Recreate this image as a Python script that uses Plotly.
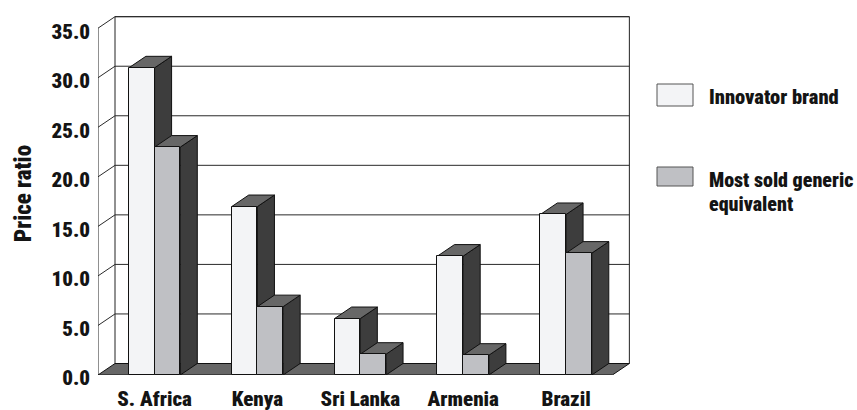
import plotly.graph_objects as go

# Price ratio of innovator brand vs. most sold generic, by country
countries = ["S. Africa", "Kenya", "Sri Lanka", "Armenia", "Brazil"]
innovator = [31.0, 17.0, 5.7, 12.0, 16.2]
generic = [23.0, 6.9, 2.1, 2.0, 12.3]
y_ticks = [0, 5, 10, 15, 20, 25, 30, 35]

FONT = "Roboto Condensed, Open Sans Condensed, DejaVu Sans Condensed, sans-serif"
WEIGHT = 900
TXT = "#141414"
C_INNOV = "#f3f4f6"
C_GEN = "#bfc0c4"
C_SIDE = "#3d3d3d"
C_TOP = "#676767"
C_FLOOR = "#666666"
EDGE = "#111111"

W, H = 857, 410
ML, MR, MT, MB = 98, 222, 15, 35
X0, X1 = -0.5, 4.72
YMAX = 36.33
PW = W - ML - MR
PH = H - MT - MB

# depth of the 3D box, in axis units
DX = 17 / (PW / (X1 - X0))
DY = 11.5 / (PH / YMAX)
BW = 0.25  # width of one bar
XL, XR = -0.5, 4.5  # front edges of the floor

fig = go.Figure()
shapes = []


def poly(pts, fill, width=1.0, color=EDGE):
    path = "M " + " L ".join(f"{x},{y}" for x, y in pts) + " Z"
    shapes.append(dict(type="path", path=path, xref="x", yref="y",
                       fillcolor=fill, line=dict(color=color, width=width),
                       layer="below"))


def seg(xa, ya, xb, yb, color="#333333", width=1.0):
    shapes.append(dict(type="line", x0=xa, y0=ya, x1=xb, y1=yb, xref="x", yref="y",
                       line=dict(color=color, width=width), layer="below"))


# back wall
poly([(XL + DX, DY), (XR + DX, DY), (XR + DX, y_ticks[-1] + DY),
      (XL + DX, y_ticks[-1] + DY)], "white", 1.0, "#222222")
# back-wall gridlines and side-wall diagonals
for v in y_ticks[1:]:
    seg(XL + DX, v + DY, XR + DX, v + DY, "#2a2a2a", 1.0)
    seg(XL, v, XL + DX, v + DY, "#2a2a2a", 1.0)
# front vertical axis
seg(XL, 0, XL, y_ticks[-1], "#222222", 1.0)
# floor
poly([(XL, 0), (XR, 0), (XR + DX, DY), (XL + DX, DY)], C_FLOOR, 1.0)

# side and top faces of each bar
for i in range(len(countries)):
    for off, val in ((-0.2, innovator[i]), (0.05, generic[i])):
        a = i + off
        b = a + BW
        poly([(b, 0), (b + DX, DY), (b + DX, val + DY), (b, val)], C_SIDE, 1.0)
        poly([(a, val), (b, val), (b + DX, val + DY), (a + DX, val + DY)], C_TOP, 1.0)

# front faces
idx = list(range(len(countries)))
fig.add_trace(go.Bar(x=[i - 0.075 for i in idx], y=innovator, width=BW,
                     marker=dict(color=C_INNOV, line=dict(color=EDGE, width=1)),
                     name="Innovator brand", showlegend=False,
                     customdata=countries,
                     hovertemplate="%{customdata}: %{y:.1f}<extra>Innovator brand</extra>"))
fig.add_trace(go.Bar(x=[i + 0.175 for i in idx], y=generic, width=BW,
                     marker=dict(color=C_GEN, line=dict(color=EDGE, width=1)),
                     name="Most sold generic equivalent", showlegend=False,
                     customdata=countries,
                     hovertemplate="%{customdata}: %{y:.1f}<extra>Most sold generic equivalent</extra>"))


def px(xp):
    return (xp - ML) / PW


def py(yp):
    return (H - MB - yp) / PH


# legend
for (top, bot), fill in (((84, 106), C_INNOV), ((167, 186), C_GEN)):
    shapes.append(dict(type="rect", xref="paper", yref="paper",
                       x0=px(657), x1=px(693), y0=py(bot), y1=py(top),
                       fillcolor=fill, line=dict(color="#555555", width=1)))

annotations = [
    dict(text="Innovator brand", x=px(707), y=py(97), xanchor="left", yanchor="middle", s=20.5),
    dict(text="Most sold generic", x=px(707), y=py(180), xanchor="left", yanchor="middle", s=20),
    dict(text="equivalent", x=px(707), y=py(204), xanchor="left", yanchor="middle", s=20),
    dict(text="Price ratio", x=px(23), y=py(194), xanchor="center", yanchor="middle",
         textangle=-90, s=23),
]
for a in annotations:
    size = a.pop("s")
    a.update(xref="paper", yref="paper", showarrow=False,
             font=dict(family=FONT, size=size, color=TXT, weight=WEIGHT))

fig.update_layout(
    width=W, height=H,
    margin=dict(l=ML, r=MR, t=MT, b=MB, pad=0),
    paper_bgcolor="white", plot_bgcolor="white",
    barmode="overlay", bargap=0,
    shapes=shapes, annotations=annotations,
    showlegend=False,
    xaxis=dict(range=[X0, X1], showgrid=False, zeroline=False, showline=False,
               automargin=False,
               tickmode="array", tickvals=[i + 0.05 for i in idx], ticktext=countries,
               ticks="", ticklabelstandoff=9,
               tickfont=dict(family=FONT, size=21, color=TXT, weight=WEIGHT)),
    yaxis=dict(range=[0, YMAX], showgrid=False, zeroline=False, showline=False,
               automargin=False,
               tickmode="array", tickvals=y_ticks,
               ticktext=[f"{v:.1f}" for v in y_ticks],
               ticks="", ticklabelstandoff=7, ticklabelshift=3,
               tickfont=dict(family=FONT, size=21, color=TXT, weight=WEIGHT)),
)

fig.write_html("out.html")
